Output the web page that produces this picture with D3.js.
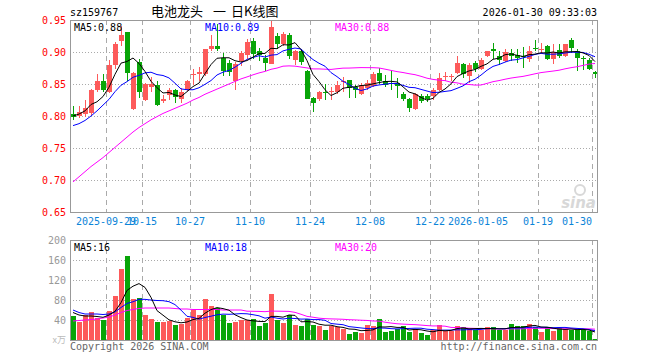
<!DOCTYPE html>
<html>
<head>
<meta charset="utf-8">
<script src="https://cdn.jsdelivr.net/npm/d3@7"></script>
<style>
  body { margin: 0; background: #fff; }
  text { font-family: "DejaVu Sans Mono", monospace; font-size: 10px; }
</style>
</head>
<body>
<div id="main"></div>
<script>
const width = 660;
const height = 360;

const dates = [
  "2025-09-19", "2025-09-22", "2025-09-23", "2025-09-24", "2025-09-25", "2025-09-26", "2025-09-29", "2025-09-30",
  "2025-10-09", "2025-10-10", "2025-10-13", "2025-10-14", "2025-10-15", "2025-10-16", "2025-10-17", "2025-10-20",
  "2025-10-21", "2025-10-22", "2025-10-23", "2025-10-24", "2025-10-27", "2025-10-28", "2025-10-29", "2025-10-30",
  "2025-10-31", "2025-11-03", "2025-11-04", "2025-11-05", "2025-11-06", "2025-11-07", "2025-11-10", "2025-11-11",
  "2025-11-12", "2025-11-13", "2025-11-14", "2025-11-17", "2025-11-18", "2025-11-19", "2025-11-20", "2025-11-21",
  "2025-11-24", "2025-11-25", "2025-11-26", "2025-11-27", "2025-11-28", "2025-12-01", "2025-12-02", "2025-12-03",
  "2025-12-04", "2025-12-05", "2025-12-08", "2025-12-09", "2025-12-10", "2025-12-11", "2025-12-12", "2025-12-15",
  "2025-12-16", "2025-12-17", "2025-12-18", "2025-12-19", "2025-12-22", "2025-12-23", "2025-12-24", "2025-12-25",
  "2025-12-26", "2025-12-29", "2025-12-30", "2025-12-31", "2026-01-05", "2026-01-06", "2026-01-07", "2026-01-08",
  "2026-01-09", "2026-01-12", "2026-01-13", "2026-01-14", "2026-01-15", "2026-01-16", "2026-01-19", "2026-01-20",
  "2026-01-21", "2026-01-22", "2026-01-23", "2026-01-26", "2026-01-27", "2026-01-28", "2026-01-29", "2026-01-30",
];

const open = [
  0.803, 0.800, 0.803, 0.804, 0.840, 0.854, 0.838, 0.879, 0.917, 0.932,
  0.811, 0.885, 0.825, 0.846, 0.849, 0.824, 0.833, 0.841, 0.826, 0.841,
  0.864, 0.866, 0.865, 0.904, 0.909, 0.891, 0.883, 0.855, 0.886, 0.895,
  0.917, 0.902, 0.891, 0.882, 0.925, 0.912, 0.926, 0.888, 0.901, 0.871,
  0.828, 0.826, 0.838, 0.838, 0.837, 0.854, 0.857, 0.846, 0.835, 0.844,
  0.847, 0.867, 0.854, 0.852, 0.852, 0.835, 0.826, 0.811, 0.832, 0.832,
  0.832, 0.840, 0.861, 0.861, 0.867, 0.882, 0.862, 0.883, 0.874, 0.893,
  0.904, 0.894, 0.886, 0.899, 0.895, 0.894, 0.889, 0.907, 0.904, 0.909,
  0.889, 0.903, 0.894, 0.918, 0.901, 0.890, 0.888, 0.868,
];

const high = [
  0.816, 0.815, 0.825, 0.842, 0.866, 0.865, 0.888, 0.915, 0.941, 0.932,
  0.869, 0.889, 0.851, 0.861, 0.854, 0.833, 0.843, 0.842, 0.843, 0.857,
  0.873, 0.877, 0.905, 0.927, 0.943, 0.899, 0.887, 0.885, 0.902, 0.921,
  0.922, 0.906, 0.895, 0.950, 0.930, 0.932, 0.930, 0.903, 0.904, 0.872,
  0.829, 0.839, 0.850, 0.846, 0.855, 0.861, 0.857, 0.849, 0.851, 0.856,
  0.868, 0.875, 0.864, 0.872, 0.860, 0.838, 0.828, 0.836, 0.835, 0.834,
  0.843, 0.867, 0.868, 0.865, 0.893, 0.883, 0.883, 0.886, 0.890, 0.902,
  0.914, 0.901, 0.904, 0.905, 0.904, 0.908, 0.910, 0.918, 0.914, 0.911,
  0.913, 0.913, 0.913, 0.922, 0.905, 0.893, 0.890, 0.871,
];

const low = [
  0.794, 0.797, 0.799, 0.802, 0.838, 0.837, 0.836, 0.873, 0.909, 0.854,
  0.809, 0.828, 0.823, 0.837, 0.815, 0.820, 0.825, 0.821, 0.821, 0.839,
  0.849, 0.854, 0.862, 0.902, 0.902, 0.862, 0.862, 0.840, 0.878, 0.889,
  0.889, 0.886, 0.871, 0.881, 0.905, 0.910, 0.889, 0.880, 0.880, 0.826,
  0.807, 0.824, 0.825, 0.825, 0.835, 0.838, 0.828, 0.828, 0.833, 0.840,
  0.845, 0.850, 0.846, 0.841, 0.828, 0.824, 0.806, 0.809, 0.821, 0.822,
  0.825, 0.839, 0.855, 0.854, 0.865, 0.860, 0.852, 0.868, 0.872, 0.892,
  0.889, 0.880, 0.884, 0.886, 0.883, 0.875, 0.884, 0.901, 0.898, 0.888,
  0.881, 0.891, 0.892, 0.899, 0.870, 0.872, 0.872, 0.859,
];

const close = [
  0.799, 0.806, 0.812, 0.840, 0.854, 0.840, 0.879, 0.913, 0.927, 0.867,
  0.867, 0.837, 0.850, 0.850, 0.817, 0.826, 0.841, 0.830, 0.838, 0.855,
  0.866, 0.868, 0.904, 0.909, 0.904, 0.870, 0.868, 0.881, 0.899, 0.915,
  0.897, 0.895, 0.883, 0.939, 0.912, 0.928, 0.893, 0.901, 0.884, 0.827,
  0.820, 0.837, 0.837, 0.839, 0.849, 0.855, 0.844, 0.841, 0.849, 0.852,
  0.865, 0.854, 0.849, 0.851, 0.847, 0.827, 0.813, 0.835, 0.823, 0.826,
  0.841, 0.859, 0.862, 0.863, 0.883, 0.865, 0.879, 0.873, 0.888, 0.902,
  0.901, 0.888, 0.900, 0.894, 0.891, 0.892, 0.902, 0.904, 0.905, 0.889,
  0.900, 0.894, 0.913, 0.906, 0.891, 0.889, 0.874, 0.865,
];

// volume in 万手
const volume = [
  48, 36, 50, 56, 45, 40, 58, 88, 142, 168,
  82, 84, 50, 42, 36, 36, 38, 30, 32, 44,
  60, 50, 82, 68, 64, 50, 34, 36, 40, 40,
  42, 28, 34, 92, 40, 34, 50, 30, 28, 42,
  30, 28, 20, 28, 27, 23, 12, 17, 14, 30,
  28, 42, 16, 18, 22, 28, 16, 22, 14, 10,
  20, 30, 18, 18, 28, 26, 22, 20, 20, 26,
  26, 20, 20, 32, 28, 28, 32, 26, 16, 26,
  18, 24, 22, 20, 20, 20, 18, 2,
];

// moving averages at the left edge, before a full window exists
const ma5Lead = [0.800, 0.803, 0.808, 0.818];
const ma10Lead = [0.785, 0.788, 0.793, 0.800, 0.808, 0.817, 0.826, 0.838, 0.848];
const ma30Lead = [
  0.697, 0.705, 0.713, 0.721, 0.728, 0.735, 0.743, 0.751, 0.759, 0.767,
  0.775, 0.782, 0.788, 0.794, 0.799, 0.804, 0.808, 0.812, 0.816, 0.820,
  0.825, 0.829, 0.834, 0.838, 0.842, 0.846, 0.850, 0.854, 0.858,
];
const volMa5Lead = [55, 50, 48, 48];
const volMa10Lead = [60, 55, 52, 52, 52, 51, 52, 56, 65];
const volMa30Lead = [
  38, 39, 40, 41, 42, 44, 46, 50, 55, 59,
  61, 63, 64, 64, 64, 64, 64, 63, 62, 62,
  61, 61, 61, 61, 61, 60, 60, 60, 60,
];

const priceTicks = [0.65, 0.7, 0.75, 0.8, 0.85, 0.9, 0.95];
const volTicks = [40, 80, 120, 160, 200];
const tickDates = ["2025-09-29", "2025-10-15", "2025-10-27", "2025-11-10", "2025-11-24",
  "2025-12-08", "2025-12-22", "2026-01-05", "2026-01-19", "2026-01-30"];
const tickLabels = ["2025-09-29", "10-15", "10-27", "11-10", "11-24",
  "12-08", "12-22", "2026-01-05", "01-19", "01-30"];

const red = "#fd5a5a";
const green = "#08a508";
const gridColor = "#aaa";

const left = 70;
const right = 598;
const priceTop = 20;
const priceBottom = 212;
const volTop = 240;
const volBottom = 340;

const movingAverage = (values, n, lead) =>
  values.map((v, i) => (i < n - 1 ? lead[i] : d3.mean(values.slice(i - n + 1, i + 1))));

const svg = d3.select("#main").append("svg").attr("width", width).attr("height", height);

const x = d3.scaleBand().domain(dates).range([left, right]);
const yPrice = d3.scaleLinear().domain([0.65, 0.95]).range([priceBottom, priceTop]);
const yVol = d3.scaleLinear().domain([0, 200]).range([volBottom, volTop]);
const cx = (d) => x(d) + x.bandwidth() / 2;

// header
svg.append("text").attr("x", 70).attr("y", 16).text("sz159767");
const title = svg
  .append("text")
  .attr("y", 16)
  .style("font-family", "'Noto Sans CJK SC', sans-serif")
  .style("font-size", "13px");
title.append("tspan").attr("x", 151).text("电池龙头");
title.append("tspan").attr("x", 213).text("一");
title.append("tspan").attr("x", 231).text("日K线图");
svg.append("text").attr("x", 597).attr("y", 16).attr("text-anchor", "end").text("2026-01-30 09:33:03");

// grids
const drawPanelGrid = (top, bottom, yScale, values) => {
  svg
    .append("g")
    .selectAll("line")
    .data(values)
    .join("line")
    .attr("x1", left)
    .attr("x2", right)
    .attr("y1", (v) => Math.round(yScale(v)) + 0.5)
    .attr("y2", (v) => Math.round(yScale(v)) + 0.5)
    .attr("stroke", gridColor)
    .attr("stroke-dasharray", "1,2");

  svg
    .append("g")
    .selectAll("line")
    .data(tickDates)
    .join("line")
    .attr("x1", (d) => x(d) + 0.5)
    .attr("x2", (d) => x(d) + 0.5)
    .attr("y1", top)
    .attr("y2", bottom)
    .attr("stroke", gridColor)
    .attr("stroke-dasharray", "5,4");
};

drawPanelGrid(priceTop, priceBottom, yPrice, priceTicks.slice(1, -1));
drawPanelGrid(volTop, volBottom, yVol, volTicks.slice(0, -1));

// axes labels
const priceAxis = d3
  .axisLeft(yPrice)
  .tickValues(priceTicks)
  .tickFormat(d3.format(".2f"))
  .tickSize(0)
  .tickPadding(4);
const pa = svg.append("g").attr("transform", `translate(${left},0)`).call(priceAxis);
pa.select(".domain").remove();
pa.selectAll("text").attr("fill", "#f00").style("font-family", "'DejaVu Sans Mono', monospace").style("font-size", "10px");

const volAxis = d3.axisLeft(yVol).tickValues(volTicks).tickSize(0).tickPadding(4);
const va = svg.append("g").attr("transform", `translate(${left},0)`).call(volAxis);
va.select(".domain").remove();
va.selectAll("text").attr("fill", "#999").style("font-family", "'DejaVu Sans Mono', monospace").style("font-size", "10px");

svg
  .append("text")
  .attr("x", 66)
  .attr("y", 343)
  .attr("text-anchor", "end")
  .attr("fill", "#bbb")
  .style("font-family", "'Noto Sans CJK SC', sans-serif")
  .style("font-size", "9px")
  .text("x万");

svg
  .append("g")
  .selectAll("text")
  .data(tickDates)
  .join("text")
  .attr("x", (d) => x(d))
  .attr("y", 225)
  .attr("text-anchor", (d, i) => (i === tickDates.length - 1 ? "end" : "middle"))
  .attr("fill", "#0b84d8")
  .text((d, i) => tickLabels[i]);

// watermark
svg
  .append("text")
  .attr("x", 596)
  .attr("y", 208)
  .attr("text-anchor", "end")
  .attr("fill", "#d8d8d8")
  .style("font-family", "'DejaVu Sans', sans-serif")
  .style("font-size", "15px")
  .style("font-weight", "bold")
  .style("font-style", "italic")
  .text("sina");
svg.append("circle").attr("cx", 580).attr("cy", 190).attr("r", 5).attr("fill", "none").attr("stroke", "#d8d8d8").attr("stroke-width", 2);

// candles
const candles = svg.append("g").selectAll("g").data(dates).join("g");
const colorOf = (i) => (close[i] >= open[i] ? red : green);

candles
  .append("line")
  .attr("x1", (d) => cx(d))
  .attr("x2", (d) => cx(d))
  .attr("y1", (d, i) => yPrice(high[i]))
  .attr("y2", (d, i) => yPrice(low[i]))
  .attr("stroke", (d, i) => colorOf(i))
  .attr("shape-rendering", "crispEdges");

candles
  .append("rect")
  .attr("x", (d) => x(d) + 1)
  .attr("width", x.bandwidth() - 1)
  .attr("y", (d, i) => yPrice(Math.max(open[i], close[i])))
  .attr("height", (d, i) => Math.max(1, Math.abs(yPrice(open[i]) - yPrice(close[i]))))
  .attr("fill", (d, i) => colorOf(i))
  .attr("shape-rendering", "crispEdges");

// volume bars
svg
  .append("g")
  .selectAll("rect")
  .data(dates)
  .join("rect")
  .attr("x", (d) => x(d) + 1)
  .attr("width", x.bandwidth() - 1)
  .attr("y", (d, i) => yVol(volume[i]))
  .attr("height", (d, i) => volBottom - yVol(volume[i]))
  .attr("fill", (d, i) => colorOf(i))
  .attr("shape-rendering", "crispEdges");

// moving average lines
const drawLine = (values, yScale, color) => {
  const line = d3
    .line()
    .x((v, i) => cx(dates[i]))
    .y((v) => yScale(v));
  svg.append("path").datum(values).attr("d", line).attr("fill", "none").attr("stroke", color).attr("stroke-width", 1);
};

drawLine(movingAverage(close, 30, ma30Lead), yPrice, "#f0f");
drawLine(movingAverage(close, 10, ma10Lead), yPrice, "#00f");
drawLine(movingAverage(close, 5, ma5Lead), yPrice, "#000");
drawLine(movingAverage(volume, 30, volMa30Lead), yVol, "#f0f");
drawLine(movingAverage(volume, 10, volMa10Lead), yVol, "#00f");
drawLine(movingAverage(volume, 5, volMa5Lead), yVol, "#000");

// frames
svg.append("rect").attr("x", left + 0.5).attr("y", priceTop + 0.5).attr("width", right - left - 1).attr("height", priceBottom - priceTop)
  .attr("fill", "none").attr("stroke", "#999");
svg.append("rect").attr("x", left + 0.5).attr("y", volTop + 0.5).attr("width", right - left - 1).attr("height", volBottom - volTop)
  .attr("fill", "none").attr("stroke", "#999");

// legends
const legend = (y, labels) => {
  svg.append("text").attr("x", 74).attr("y", y).attr("fill", "#000").text(labels[0]);
  svg.append("text").attr("x", 205).attr("y", y).attr("fill", "#00f").text(labels[1]);
  svg.append("text").attr("x", 335).attr("y", y).attr("fill", "#f0f").text(labels[2]);
};
legend(31, ["MA5:0.88", "MA10:0.89", "MA30:0.88"]);
legend(251, ["MA5:16", "MA10:18", "MA30:20"]);

// footer
svg.append("text").attr("x", 70).attr("y", 350).attr("fill", "#666").text("Copyright 2026 SINA.COM");
svg.append("text").attr("x", 597).attr("y", 350).attr("text-anchor", "end").attr("fill", "#666").text("http://finance.sina.com.cn");
</script>
</body>
</html>
